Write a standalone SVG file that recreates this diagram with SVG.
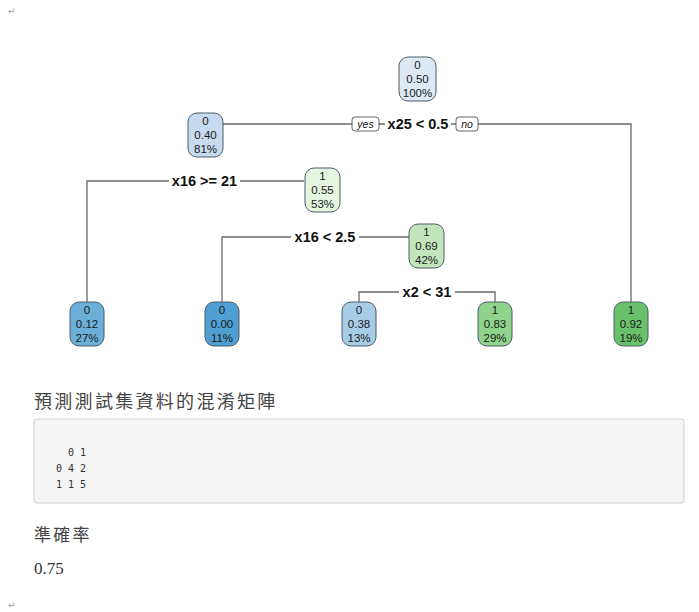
<svg xmlns="http://www.w3.org/2000/svg" width="699" height="612" viewBox="0 0 699 612">
  <style>
    .node rect { stroke: #4d5a66; stroke-width: 1; }
    .node text { font-family: "Liberation Sans", Arial, sans-serif; font-size: 11.5px; fill: #1a1a1a; text-anchor: middle; }
    .edge { fill: none; stroke: #6b6b6b; stroke-width: 1.3; }
    .split { font-family: "Liberation Sans", Arial, sans-serif; font-size: 14.5px; font-weight: bold; fill: #111; text-anchor: middle; }
    .lblbg { fill: #ffffff; }
    .yn rect { fill: #ffffff; stroke: #555; stroke-width: 0.9; }
    .yn text { font-family: "Liberation Sans", Arial, sans-serif; font-size: 10.5px; font-style: italic; fill: #222; text-anchor: middle; }
    .cjk { font-family: "Noto Sans CJK TC", "Noto Sans CJK SC", sans-serif; font-size: 18px; fill: #444; letter-spacing: 2.3px; }
    .mono { font-family: "DejaVu Sans Mono", "Liberation Mono", monospace; font-size: 10px; fill: #333; white-space: pre; }
    .mark { font-family: "DejaVu Sans", sans-serif; font-size: 9px; fill: #999; }
  </style>

  <rect width="699" height="612" fill="#ffffff"/>

  <!-- paragraph marks -->
  <text class="mark" x="8" y="14">↵</text>
  <text class="mark" x="8" y="608">↵</text>

  <!-- connectors -->
  <g id="connectors">
    <path class="edge" d="M223 124 H631 V302"/>
    <path class="edge" d="M87 302 V181 H304"/>
    <path class="edge" d="M222 302 V237 H409"/>
    <path class="edge" d="M359 302 V292 H495 V302"/>

    <!-- split labels -->
    <rect class="lblbg" x="385" y="115" width="66" height="18"/>
    <text class="split" x="418" y="129">x25 &lt; 0.5</text>
    <g class="yn">
      <rect x="352" y="117" width="27" height="14" rx="3"/>
      <text x="365.5" y="128">yes</text>
      <rect x="456" y="117" width="22" height="14" rx="3"/>
      <text x="467" y="128">no</text>
    </g>

    <rect class="lblbg" x="169" y="172" width="71" height="18"/>
    <text class="split" x="204.5" y="186">x16 &gt;= 21</text>

    <rect class="lblbg" x="291" y="228" width="68" height="18"/>
    <text class="split" x="325" y="242">x16 &lt; 2.5</text>

    <rect class="lblbg" x="399" y="283" width="56" height="18"/>
    <text class="split" x="427" y="297">x2 &lt; 31</text>
  </g>

  <!-- tree nodes -->
  <g id="node1" class="node">
    <rect x="399" y="57" width="37" height="44" rx="9" fill="#dde9f5"/>
    <text x="417.5" y="69">0</text>
    <text x="417.5" y="83">0.50</text>
    <text x="417.5" y="97">100%</text>
  </g>
  <g id="node2" class="node">
    <rect x="188" y="113" width="35" height="44" rx="9" fill="#c6dbef"/>
    <text x="205.5" y="125">0</text>
    <text x="205.5" y="139">0.40</text>
    <text x="205.5" y="153">81%</text>
  </g>
  <g id="node3" class="node">
    <rect x="305" y="168" width="35" height="44" rx="9" fill="#e5f5e0"/>
    <text x="322.5" y="180">1</text>
    <text x="322.5" y="194">0.55</text>
    <text x="322.5" y="208">53%</text>
  </g>
  <g id="node7" class="node">
    <rect x="409" y="224" width="35" height="44" rx="9" fill="#c2e6bb"/>
    <text x="426.5" y="236">1</text>
    <text x="426.5" y="250">0.69</text>
    <text x="426.5" y="264">42%</text>
  </g>
  <g id="leaf4" class="node">
    <rect x="70" y="302" width="34" height="44" rx="9" fill="#6cafd9"/>
    <text x="87" y="314">0</text>
    <text x="87" y="328">0.12</text>
    <text x="87" y="342">27%</text>
  </g>
  <g id="leaf12" class="node">
    <rect x="205" y="302" width="34" height="44" rx="9" fill="#4f9fd2"/>
    <text x="222" y="314">0</text>
    <text x="222" y="328">0.00</text>
    <text x="222" y="342">11%</text>
  </g>
  <g id="leaf14" class="node">
    <rect x="342" y="302" width="34" height="44" rx="9" fill="#a7cde6"/>
    <text x="359" y="314">0</text>
    <text x="359" y="328">0.38</text>
    <text x="359" y="342">13%</text>
  </g>
  <g id="leaf15" class="node">
    <rect x="478" y="302" width="34" height="44" rx="9" fill="#8fd38c"/>
    <text x="495" y="314">1</text>
    <text x="495" y="328">0.83</text>
    <text x="495" y="342">29%</text>
  </g>
  <g id="leaf3" class="node">
    <rect x="614" y="302" width="34" height="44" rx="9" fill="#6ac16b"/>
    <text x="631" y="314">1</text>
    <text x="631" y="328">0.92</text>
    <text x="631" y="342">19%</text>
  </g>

  <!-- confusion matrix section -->
  <text class="cjk" x="34" y="408">預測測試集資料的混淆矩陣</text>
  <rect x="34" y="419" width="650" height="84" rx="3" fill="#f5f5f5" stroke="#d0d0d0" stroke-width="1"/>
  <text class="mono" x="56" y="456">  0 1</text>
  <text class="mono" x="56" y="472">0 4 2</text>
  <text class="mono" x="56" y="488">1 1 5</text>

  <text class="cjk" x="34" y="541" style="font-size:17px">準確率</text>
  <text x="34" y="574" font-family="Liberation Serif, serif" font-size="17" fill="#333">0.75</text>
</svg>
